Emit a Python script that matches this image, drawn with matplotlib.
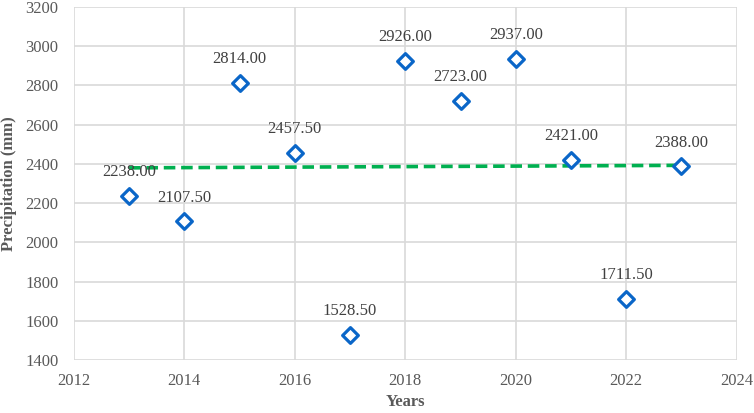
import matplotlib.pyplot as plt
import numpy as np

plt.rcParams['font.family'] = ['Liberation Serif', 'DejaVu Serif']

years = [2013, 2014, 2015, 2016, 2017, 2018, 2019, 2020, 2021, 2022, 2023]
precip = [2238.0, 2107.5, 2814.0, 2457.5, 1528.5, 2926.0, 2723.0, 2937.0, 2421.0, 1711.5, 2388.0]

text_gray = '#595959'
grid_gray = '#d9d9d9'

fig = plt.figure(figsize=(7.54, 4.13), dpi=100)
ax = fig.add_axes([0.098, 0.128, 0.879, 0.855])

# linear trend, like the spreadsheet trendline
x = np.array(years, dtype=float)
y = np.array(precip)
slope, icpt = np.polyfit(x, y, 1)
ax.plot([x[0], x[-1]], [slope * x[0] + icpt, slope * x[-1] + icpt],
        color='#00b050', lw=2.6, ls=(0, (3.2, 1.6)), zorder=2)

ax.scatter(years, precip, marker='D', s=64, facecolor='white',
           edgecolor='#0a66c8', linewidths=2.3, zorder=3)

for xv, yv in zip(years, precip):
    ax.annotate(f'{yv:.2f}', (xv, yv), xytext=(0, 17), textcoords='offset points',
                ha='center', va='center', fontsize=12, color='#404040', zorder=4)

ax.set_xlim(2012, 2024)
ax.set_ylim(1400, 3200)
ax.set_xticks(np.arange(2012, 2025, 2))
ax.set_yticks(np.arange(1400, 3201, 200))
ax.grid(True, color=grid_gray, lw=1.2)
ax.set_axisbelow(True)
for s in ax.spines.values():
    s.set_visible(False)
ax.tick_params(length=0, labelsize=12, labelcolor=text_gray)
ax.tick_params(axis='y', pad=11)
ax.tick_params(axis='x', pad=9)

ax.set_xlabel('Years', fontsize=12, fontweight='bold', color=text_gray, labelpad=4)
ax.set_ylabel('Precipitation (mm)', fontsize=12, fontweight='bold', color=text_gray, labelpad=6)

fig.savefig('out.png', dpi=100)
